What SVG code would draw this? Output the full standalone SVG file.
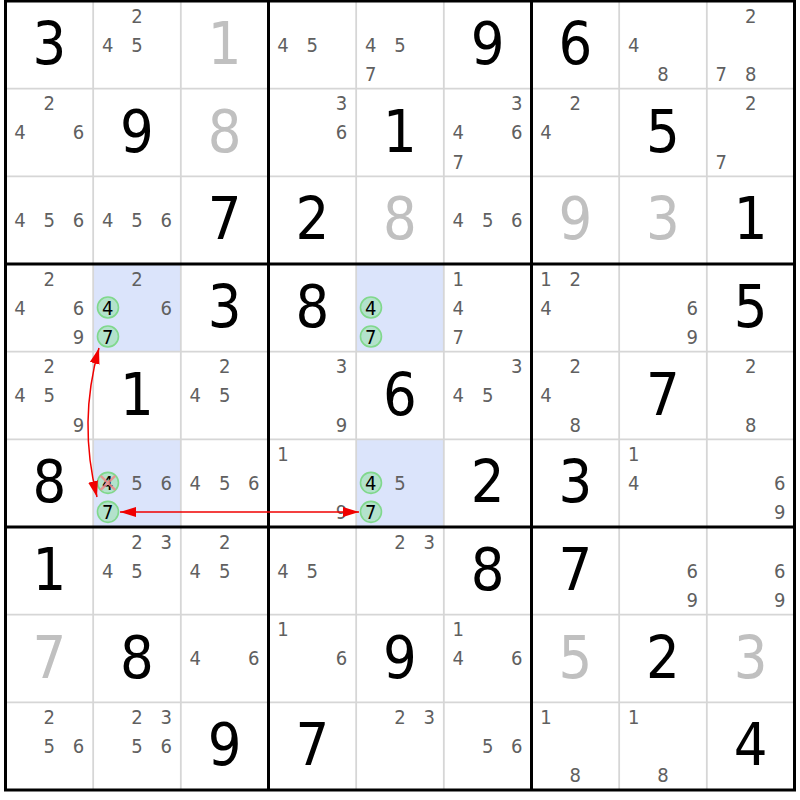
<svg xmlns="http://www.w3.org/2000/svg" width="800" height="800" viewBox="0 0 800 800">
<style>
text{font-family:'DejaVu Sans Condensed','DejaVu Sans',sans-serif;font-stretch:condensed;text-anchor:middle}
.g{font-size:59px;fill:#000}
.s{font-size:59px;fill:#c0c0c0}
.c{font-size:20px;fill:#606060}
.k{font-size:20px;fill:#000}
.hl{fill:#dbe4fb}
.thin{stroke:#d6d6d6;stroke-width:1.8}
.thick{stroke:#000;stroke-width:3}
.circ{fill:#b3e2cc;stroke:#80d88c;stroke-width:1.6}
.x{stroke:#f08a8a;stroke-width:2.5;opacity:0.85}
.arr{fill:none;stroke:#f00000;stroke-width:1.5}
</style>
<defs>
<marker id="ah" viewBox="0 0 16 10" refX="16" refY="5" markerWidth="16" markerHeight="10" markerUnits="userSpaceOnUse" orient="auto-start-reverse">
<path d="M0,0 L16,5 L0,10 z" fill="#f00000"/>
</marker>
</defs>
<rect x="0" y="0" width="800" height="800" fill="#fff"/>
<g id="highlights">
<rect class="hl" x="93.17" y="264" width="87.67" height="87.67"/>
<rect class="hl" x="356.17" y="264" width="87.67" height="87.67"/>
<rect class="hl" x="93.17" y="439.33" width="87.67" height="87.67"/>
<rect class="hl" x="356.17" y="439.33" width="87.67" height="87.67"/>
</g>
<g id="grid">
<path class="thin" d="M93.17 1V790M180.83 1V790M356.17 1V790M443.83 1V790M619.17 1V790M706.83 1V790M5.5 88.67H794.5M5.5 176.33H794.5M5.5 351.67H794.5M5.5 439.33H794.5M5.5 614.67H794.5M5.5 702.33H794.5"/>
<path class="thick" d="M268.5 1V790M531.5 1V790M5.5 264H794.5M5.5 527H794.5"/>
<rect x="5.5" y="1" width="789" height="789" fill="none" stroke="#000" stroke-width="3"/>
</g>
<g id="r1c1" transform="translate(5.5,1)"><text class="g" x="43.8" y="63">3</text></g>
<g id="r1c2" transform="translate(93.17,1)"><text class="c" x="43.8" y="21.5">2</text><text class="c" x="14.5" y="50.5">4</text><text class="c" x="43.8" y="50.5">5</text></g>
<g id="r1c3" transform="translate(180.83,1)"><text class="s" x="43.8" y="63">1</text></g>
<g id="r1c4" transform="translate(268.5,1)"><text class="c" x="14.5" y="50.5">4</text><text class="c" x="43.8" y="50.5">5</text></g>
<g id="r1c5" transform="translate(356.17,1)"><text class="c" x="14.5" y="50.5">4</text><text class="c" x="43.8" y="50.5">5</text><text class="c" x="14.5" y="80">7</text></g>
<g id="r1c6" transform="translate(443.83,1)"><text class="g" x="43.8" y="63">9</text></g>
<g id="r1c7" transform="translate(531.5,1)"><text class="g" x="43.8" y="63">6</text></g>
<g id="r1c8" transform="translate(619.17,1)"><text class="c" x="14.5" y="50.5">4</text><text class="c" x="43.8" y="80">8</text></g>
<g id="r1c9" transform="translate(706.83,1)"><text class="c" x="43.8" y="21.5">2</text><text class="c" x="14.5" y="80">7</text><text class="c" x="43.8" y="80">8</text></g>

<g id="r2c1" transform="translate(5.5,88.67)"><text class="c" x="43.8" y="21.5">2</text><text class="c" x="14.5" y="50.5">4</text><text class="c" x="73" y="50.5">6</text></g>
<g id="r2c2" transform="translate(93.17,88.67)"><text class="g" x="43.8" y="63">9</text></g>
<g id="r2c3" transform="translate(180.83,88.67)"><text class="s" x="43.8" y="63">8</text></g>
<g id="r2c4" transform="translate(268.5,88.67)"><text class="c" x="73" y="21.5">3</text><text class="c" x="73" y="50.5">6</text></g>
<g id="r2c5" transform="translate(356.17,88.67)"><text class="g" x="43.8" y="63">1</text></g>
<g id="r2c6" transform="translate(443.83,88.67)"><text class="c" x="73" y="21.5">3</text><text class="c" x="14.5" y="50.5">4</text><text class="c" x="73" y="50.5">6</text><text class="c" x="14.5" y="80">7</text></g>
<g id="r2c7" transform="translate(531.5,88.67)"><text class="c" x="43.8" y="21.5">2</text><text class="c" x="14.5" y="50.5">4</text></g>
<g id="r2c8" transform="translate(619.17,88.67)"><text class="g" x="43.8" y="63">5</text></g>
<g id="r2c9" transform="translate(706.83,88.67)"><text class="c" x="43.8" y="21.5">2</text><text class="c" x="14.5" y="80">7</text></g>

<g id="r3c1" transform="translate(5.5,176.33)"><text class="c" x="14.5" y="50.5">4</text><text class="c" x="43.8" y="50.5">5</text><text class="c" x="73" y="50.5">6</text></g>
<g id="r3c2" transform="translate(93.17,176.33)"><text class="c" x="14.5" y="50.5">4</text><text class="c" x="43.8" y="50.5">5</text><text class="c" x="73" y="50.5">6</text></g>
<g id="r3c3" transform="translate(180.83,176.33)"><text class="g" x="43.8" y="63">7</text></g>
<g id="r3c4" transform="translate(268.5,176.33)"><text class="g" x="43.8" y="63">2</text></g>
<g id="r3c5" transform="translate(356.17,176.33)"><text class="s" x="43.8" y="63">8</text></g>
<g id="r3c6" transform="translate(443.83,176.33)"><text class="c" x="14.5" y="50.5">4</text><text class="c" x="43.8" y="50.5">5</text><text class="c" x="73" y="50.5">6</text></g>
<g id="r3c7" transform="translate(531.5,176.33)"><text class="s" x="43.8" y="63">9</text></g>
<g id="r3c8" transform="translate(619.17,176.33)"><text class="s" x="43.8" y="63">3</text></g>
<g id="r3c9" transform="translate(706.83,176.33)"><text class="g" x="43.8" y="63">1</text></g>

<g id="r4c1" transform="translate(5.5,264)"><text class="c" x="43.8" y="21.5">2</text><text class="c" x="14.5" y="50.5">4</text><text class="c" x="73" y="50.5">6</text><text class="c" x="73" y="80">9</text></g>
<g id="r4c2" transform="translate(93.17,264)"><text class="c" x="43.8" y="21.5">2</text><circle class="circ" cx="14.8" cy="43.5" r="10.5"/><text class="k" x="14.5" y="50.5">4</text><text class="c" x="73" y="50.5">6</text><circle class="circ" cx="14.8" cy="72.5" r="10.5"/><text class="k" x="14.5" y="80">7</text></g>
<g id="r4c3" transform="translate(180.83,264)"><text class="g" x="43.8" y="63">3</text></g>
<g id="r4c4" transform="translate(268.5,264)"><text class="g" x="43.8" y="63">8</text></g>
<g id="r4c5" transform="translate(356.17,264)"><circle class="circ" cx="14.8" cy="43.5" r="10.5"/><text class="k" x="14.5" y="50.5">4</text><circle class="circ" cx="14.8" cy="72.5" r="10.5"/><text class="k" x="14.5" y="80">7</text></g>
<g id="r4c6" transform="translate(443.83,264)"><text class="c" x="14.5" y="21.5">1</text><text class="c" x="14.5" y="50.5">4</text><text class="c" x="14.5" y="80">7</text></g>
<g id="r4c7" transform="translate(531.5,264)"><text class="c" x="14.5" y="21.5">1</text><text class="c" x="43.8" y="21.5">2</text><text class="c" x="14.5" y="50.5">4</text></g>
<g id="r4c8" transform="translate(619.17,264)"><text class="c" x="73" y="50.5">6</text><text class="c" x="73" y="80">9</text></g>
<g id="r4c9" transform="translate(706.83,264)"><text class="g" x="43.8" y="63">5</text></g>

<g id="r5c1" transform="translate(5.5,351.67)"><text class="c" x="43.8" y="21.5">2</text><text class="c" x="14.5" y="50.5">4</text><text class="c" x="43.8" y="50.5">5</text><text class="c" x="73" y="80">9</text></g>
<g id="r5c2" transform="translate(93.17,351.67)"><text class="g" x="43.8" y="63">1</text></g>
<g id="r5c3" transform="translate(180.83,351.67)"><text class="c" x="43.8" y="21.5">2</text><text class="c" x="14.5" y="50.5">4</text><text class="c" x="43.8" y="50.5">5</text></g>
<g id="r5c4" transform="translate(268.5,351.67)"><text class="c" x="73" y="21.5">3</text><text class="c" x="73" y="80">9</text></g>
<g id="r5c5" transform="translate(356.17,351.67)"><text class="g" x="43.8" y="63">6</text></g>
<g id="r5c6" transform="translate(443.83,351.67)"><text class="c" x="73" y="21.5">3</text><text class="c" x="14.5" y="50.5">4</text><text class="c" x="43.8" y="50.5">5</text></g>
<g id="r5c7" transform="translate(531.5,351.67)"><text class="c" x="43.8" y="21.5">2</text><text class="c" x="14.5" y="50.5">4</text><text class="c" x="43.8" y="80">8</text></g>
<g id="r5c8" transform="translate(619.17,351.67)"><text class="g" x="43.8" y="63">7</text></g>
<g id="r5c9" transform="translate(706.83,351.67)"><text class="c" x="43.8" y="21.5">2</text><text class="c" x="43.8" y="80">8</text></g>

<g id="r6c1" transform="translate(5.5,439.33)"><text class="g" x="43.8" y="63">8</text></g>
<g id="r6c2" transform="translate(93.17,439.33)"><circle class="circ" cx="14.8" cy="43.5" r="10.5"/><text class="k" x="14.5" y="50.5">4</text><path class="x" d="M7.5 36.5L22 50.5M22 36.5L7.5 50.5"/><text class="c" x="43.8" y="50.5">5</text><text class="c" x="73" y="50.5">6</text><circle class="circ" cx="14.8" cy="72.5" r="10.5"/><text class="k" x="14.5" y="80">7</text></g>
<g id="r6c3" transform="translate(180.83,439.33)"><text class="c" x="14.5" y="50.5">4</text><text class="c" x="43.8" y="50.5">5</text><text class="c" x="73" y="50.5">6</text></g>
<g id="r6c4" transform="translate(268.5,439.33)"><text class="c" x="14.5" y="21.5">1</text><text class="c" x="73" y="80">9</text></g>
<g id="r6c5" transform="translate(356.17,439.33)"><circle class="circ" cx="14.8" cy="43.5" r="10.5"/><text class="k" x="14.5" y="50.5">4</text><text class="c" x="43.8" y="50.5">5</text><circle class="circ" cx="14.8" cy="72.5" r="10.5"/><text class="k" x="14.5" y="80">7</text></g>
<g id="r6c6" transform="translate(443.83,439.33)"><text class="g" x="43.8" y="63">2</text></g>
<g id="r6c7" transform="translate(531.5,439.33)"><text class="g" x="43.8" y="63">3</text></g>
<g id="r6c8" transform="translate(619.17,439.33)"><text class="c" x="14.5" y="21.5">1</text><text class="c" x="14.5" y="50.5">4</text></g>
<g id="r6c9" transform="translate(706.83,439.33)"><text class="c" x="73" y="50.5">6</text><text class="c" x="73" y="80">9</text></g>

<g id="r7c1" transform="translate(5.5,527)"><text class="g" x="43.8" y="63">1</text></g>
<g id="r7c2" transform="translate(93.17,527)"><text class="c" x="43.8" y="21.5">2</text><text class="c" x="73" y="21.5">3</text><text class="c" x="14.5" y="50.5">4</text><text class="c" x="43.8" y="50.5">5</text></g>
<g id="r7c3" transform="translate(180.83,527)"><text class="c" x="43.8" y="21.5">2</text><text class="c" x="14.5" y="50.5">4</text><text class="c" x="43.8" y="50.5">5</text></g>
<g id="r7c4" transform="translate(268.5,527)"><text class="c" x="14.5" y="50.5">4</text><text class="c" x="43.8" y="50.5">5</text></g>
<g id="r7c5" transform="translate(356.17,527)"><text class="c" x="43.8" y="21.5">2</text><text class="c" x="73" y="21.5">3</text></g>
<g id="r7c6" transform="translate(443.83,527)"><text class="g" x="43.8" y="63">8</text></g>
<g id="r7c7" transform="translate(531.5,527)"><text class="g" x="43.8" y="63">7</text></g>
<g id="r7c8" transform="translate(619.17,527)"><text class="c" x="73" y="50.5">6</text><text class="c" x="73" y="80">9</text></g>
<g id="r7c9" transform="translate(706.83,527)"><text class="c" x="73" y="50.5">6</text><text class="c" x="73" y="80">9</text></g>

<g id="r8c1" transform="translate(5.5,614.67)"><text class="s" x="43.8" y="63">7</text></g>
<g id="r8c2" transform="translate(93.17,614.67)"><text class="g" x="43.8" y="63">8</text></g>
<g id="r8c3" transform="translate(180.83,614.67)"><text class="c" x="14.5" y="50.5">4</text><text class="c" x="73" y="50.5">6</text></g>
<g id="r8c4" transform="translate(268.5,614.67)"><text class="c" x="14.5" y="21.5">1</text><text class="c" x="73" y="50.5">6</text></g>
<g id="r8c5" transform="translate(356.17,614.67)"><text class="g" x="43.8" y="63">9</text></g>
<g id="r8c6" transform="translate(443.83,614.67)"><text class="c" x="14.5" y="21.5">1</text><text class="c" x="14.5" y="50.5">4</text><text class="c" x="73" y="50.5">6</text></g>
<g id="r8c7" transform="translate(531.5,614.67)"><text class="s" x="43.8" y="63">5</text></g>
<g id="r8c8" transform="translate(619.17,614.67)"><text class="g" x="43.8" y="63">2</text></g>
<g id="r8c9" transform="translate(706.83,614.67)"><text class="s" x="43.8" y="63">3</text></g>

<g id="r9c1" transform="translate(5.5,702.33)"><text class="c" x="43.8" y="21.5">2</text><text class="c" x="43.8" y="50.5">5</text><text class="c" x="73" y="50.5">6</text></g>
<g id="r9c2" transform="translate(93.17,702.33)"><text class="c" x="43.8" y="21.5">2</text><text class="c" x="73" y="21.5">3</text><text class="c" x="43.8" y="50.5">5</text><text class="c" x="73" y="50.5">6</text></g>
<g id="r9c3" transform="translate(180.83,702.33)"><text class="g" x="43.8" y="63">9</text></g>
<g id="r9c4" transform="translate(268.5,702.33)"><text class="g" x="43.8" y="63">7</text></g>
<g id="r9c5" transform="translate(356.17,702.33)"><text class="c" x="43.8" y="21.5">2</text><text class="c" x="73" y="21.5">3</text></g>
<g id="r9c6" transform="translate(443.83,702.33)"><text class="c" x="43.8" y="50.5">5</text><text class="c" x="73" y="50.5">6</text></g>
<g id="r9c7" transform="translate(531.5,702.33)"><text class="c" x="14.5" y="21.5">1</text><text class="c" x="43.8" y="80">8</text></g>
<g id="r9c8" transform="translate(619.17,702.33)"><text class="c" x="14.5" y="21.5">1</text><text class="c" x="43.8" y="80">8</text></g>
<g id="r9c9" transform="translate(706.83,702.33)"><text class="g" x="43.8" y="63">4</text></g>

<g id="connectors">
<path class="arr" d="M99 348 Q78 422 97 497" marker-start="url(#ah)" marker-end="url(#ah)"/>
<path class="arr" d="M120 512 L359 512" marker-start="url(#ah)" marker-end="url(#ah)"/>
</g>
</svg>
